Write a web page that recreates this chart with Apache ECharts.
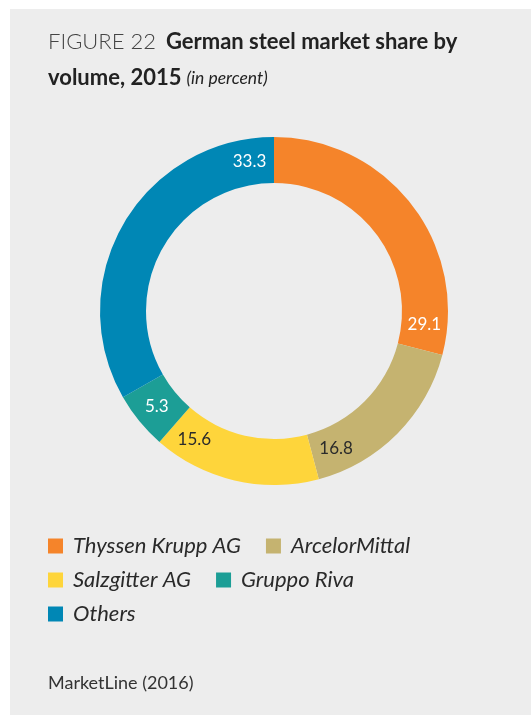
<!DOCTYPE html>
<html>
<head>
<meta charset="utf-8">
<script src="https://cdn.jsdelivr.net/npm/echarts@6/dist/echarts.min.js"></script>
<style>
  html, body { margin: 0; padding: 0; background: #ffffff; }
  #chartDiv { width: 531px; height: 715px; }
</style>
</head>
<body>
<div id="chartDiv"></div>
<script>
// chart data
const companies = ['Thyssen Krupp AG', 'ArcelorMittal', 'Salzgitter AG', 'Gruppo Riva', 'Others'];
const shares = [29.1, 16.8, 15.6, 5.3, 33.3];
const colors = ['#F5842A', '#C5B370', '#FED53B', '#1C9E96', '#0087B5'];
const labelColors = ['#ffffff', '#2b2b2b', '#2b2b2b', '#ffffff', '#ffffff'];

let myChart = echarts.init(document.getElementById('chartDiv'));
window.onresize = myChart.resize;

const CX = 274, CY = 311, R0 = 128, R1 = 174;
const total = shares.reduce((a, b) => a + b, 0);

let pieData = [];
for (let i = 0; i < companies.length; i++) {
    pieData.push({
        name: companies[i],
        value: shares[i],
        itemStyle: { color: colors[i] },
        label: { color: labelColors[i] }
    });
}

let option = {
    backgroundColor: '#ffffff',
    animation: false,
    graphic: [{
        type: 'rect',
        z: -10,
        shape: { x: 10, y: 9, width: 531, height: 715 },
        style: { fill: '#EDEDED' }
    }],
    title: [{
        left: 48,
        top: 24,
        padding: 0,
        text: '{a|FIGURE 22}  {b|German steel market share by}\n{b|volume, 2015} {c|(in percent)}',
        textStyle: {
            rich: {
                a: { fontFamily: 'Lato', fontSize: 22, fontWeight: 300, color: '#444444', lineHeight: 36 },
                b: { fontFamily: 'Lato', fontSize: 22, fontWeight: 'bold', color: '#222222', lineHeight: 36 },
                c: { fontFamily: 'Lato', fontSize: 17.5, fontWeight: 'normal', fontStyle: 'italic', color: '#222222', lineHeight: 36 }
            }
        }
    }, {
        left: 48,
        top: 674,
        padding: 0,
        text: 'MarketLine (2016)',
        textStyle: { fontFamily: 'Lato', fontSize: 18, fontWeight: 'normal', color: '#333333' }
    }],
    legend: {
        left: 48,
        top: 535,
        width: 380,
        padding: 0,
        orient: 'horizontal',
        icon: 'rect',
        itemWidth: 15,
        itemHeight: 15,
        itemGap: 12,
        selectedMode: false,
        data: companies,
        textStyle: {
            fontFamily: 'Lato',
            fontSize: 22,
            fontStyle: 'italic',
            color: '#2a2a2a',
            lineHeight: 22,
            padding: [0, 13, 0, 5]
        }
    },
    series: [{
        type: 'pie',
        center: [CX, CY],
        radius: [R0, R1],
        startAngle: 90,
        clockwise: true,
        silent: true,
        label: {
            show: true,
            position: 'inside',
            fontFamily: 'Lato',
            fontSize: 17,
            formatter: function (p) { return p.value.toFixed(1); }
        },
        labelLine: { show: false },
        labelLayout: function (p) {
            let cum = 0;
            for (let k = 0; k <= p.dataIndex; k++) cum += shares[k];
            const a = (cum - 2.6) / total * 2 * Math.PI;
            const r = (R0 + R1) / 2;
            return {
                x: CX + r * Math.sin(a),
                y: CY - r * Math.cos(a),
                align: 'center',
                verticalAlign: 'middle'
            };
        },
        data: pieData
    }]
};
myChart.setOption(option);
</script>
</body>
</html>
